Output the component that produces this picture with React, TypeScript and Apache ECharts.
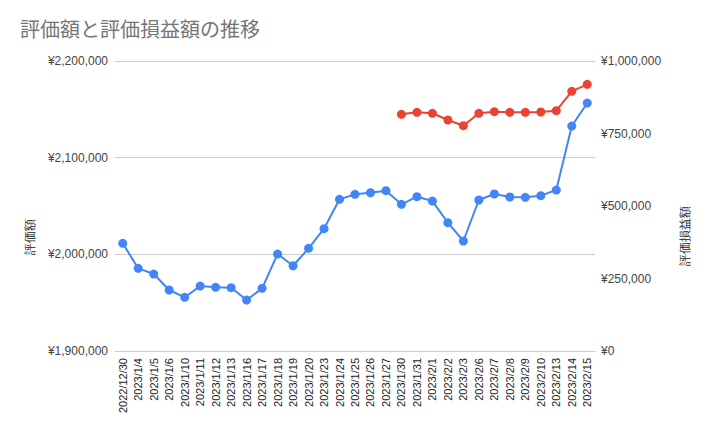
import React, { useEffect, useRef } from "react";
import * as echarts from "echarts";

const titleText = "評価額と評価損益額の推移";
const leftAxisName = "評価額";
const rightAxisName = "評価損益額";

const categories = [
  "2022/12/30", "2023/1/4", "2023/1/5", "2023/1/6", "2023/1/10", "2023/1/11",
  "2023/1/12", "2023/1/13", "2023/1/16", "2023/1/17", "2023/1/18", "2023/1/19",
  "2023/1/20", "2023/1/23", "2023/1/24", "2023/1/25", "2023/1/26", "2023/1/27",
  "2023/1/30", "2023/1/31", "2023/2/1", "2023/2/2", "2023/2/3", "2023/2/6",
  "2023/2/7", "2023/2/8", "2023/2/9", "2023/2/10", "2023/2/13", "2023/2/14",
  "2023/2/15",
];

const valuation = [
  2011400, 1985500, 1979600, 1963100, 1955500, 1967200, 1965900, 1965500,
  1952700, 1964800, 2000300, 1988200, 2006200, 2026500, 2056900, 2062100,
  2063700, 2065800, 2051700, 2059600, 2055100, 2032700, 2013800, 2056200,
  2062400, 2059300, 2059000, 2060700, 2066500, 2132700, 2156500,
];

const profitLoss = [
  null, null, null, null, null, null, null, null, null, null, null, null,
  null, null, null, null, null, null,
  816200, 823100, 819700, 796600, 776900, 819700, 825200, 823100, 823100,
  824100, 828600, 895500, 919700,
];

const leftMin = 1900000;
const leftMax = 2200000;
const leftInterval = 100000;
const rightMin = 0;
const rightMax = 1000000;
const rightInterval = 250000;

const yen = (v: number) => "¥" + v.toLocaleString("en-US");

export default function App() {
  const ref = useRef<HTMLDivElement>(null);
  useEffect(() => {
    document.body.style.margin = "0";
    if (!ref.current) return;
    const chart = echarts.init(ref.current, null, { renderer: "svg" });
    chart.setOption({
      animation: false,
      backgroundColor: "#ffffff",
      textStyle: { fontFamily: "Arial, 'Liberation Sans', 'Noto Sans CJK JP', sans-serif" },
      title: {
        text: titleText,
        left: 20,
        top: 18,
        padding: 0,
        textStyle: {
          fontSize: 20,
          fontWeight: "normal",
          color: "#757575",
          fontFamily: "'Noto Sans CJK JP', sans-serif",
        },
      },
      grid: { left: 115, right: 114, top: 61, bottom: 86, containLabel: false },
      xAxis: {
        type: "category",
        data: categories,
        boundaryGap: true,
        axisLine: { show: true, lineStyle: { color: "#cccccc" } },
        axisTick: { show: false },
        axisLabel: {
          rotate: 90,
          interval: 0,
          fontSize: 11,
          color: "#222222",
          margin: 7,
        },
        splitLine: { show: false },
      },
      yAxis: [
        {
          type: "value",
          min: leftMin,
          max: leftMax,
          interval: leftInterval,
          position: "left",
          axisLine: { show: false },
          axisTick: { show: false },
          axisLabel: { formatter: yen, fontSize: 12, color: "#444444", margin: 7 },
          splitLine: { show: true, lineStyle: { color: "#cccccc" } },
        },
        {
          type: "value",
          min: rightMin,
          max: rightMax,
          interval: rightInterval,
          position: "right",
          axisLine: { show: false },
          axisTick: { show: false },
          axisLabel: { formatter: yen, fontSize: 12, color: "#444444", margin: 6 },
          splitLine: { show: false },
        },
      ],
      graphic: [
        {
          type: "text",
          x: 30,
          y: 237,
          rotation: Math.PI / 2,
          style: {
            text: leftAxisName,
            fontSize: 12,
            fill: "#222222",
            align: "center",
            verticalAlign: "middle",
            fontFamily: "serif",
          },
        },
        {
          type: "text",
          x: 685,
          y: 236,
          rotation: Math.PI / 2,
          style: {
            text: rightAxisName,
            fontSize: 12,
            fill: "#222222",
            align: "center",
            verticalAlign: "middle",
            fontFamily: "serif",
          },
        },
      ],
      series: [
        {
          name: leftAxisName,
          type: "line",
          yAxisIndex: 0,
          data: valuation,
          symbol: "circle",
          symbolSize: 9,
          itemStyle: { color: "#4285F4" },
          lineStyle: { color: "#4285F4", width: 2 },
        },
        {
          name: rightAxisName,
          type: "line",
          yAxisIndex: 1,
          data: profitLoss,
          symbol: "circle",
          symbolSize: 9,
          connectNulls: false,
          itemStyle: { color: "#EA4335" },
          lineStyle: { color: "#EA4335", width: 2 },
        },
      ],
    });
    return () => chart.dispose();
  }, []);
  return <div ref={ref} style={{ width: 709, height: 437 }} />;
}
